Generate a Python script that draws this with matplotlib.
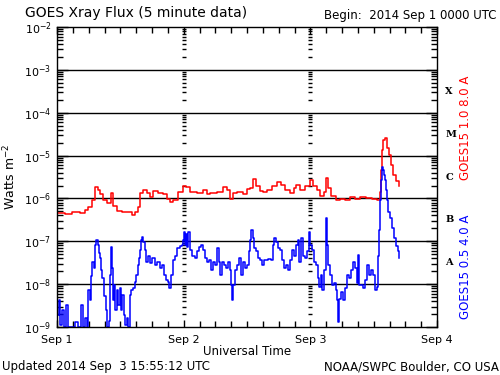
import numpy as np
import matplotlib
matplotlib.use("Agg")
import matplotlib.pyplot as plt
import matplotlib.transforms as mtransforms
from matplotlib.ticker import MultipleLocator, LogLocator, NullFormatter

# GOES15 long channel (1.0-8.0 A), hours since Sep 1 00:00 UTC
long_hours = [0, 1.5, 2.8, 4.4, 5.3, 5.9, 6.6, 7.2, 7.8, 8.1, 8.7, 9.5, 10.2, 10.6, 11.4, 12.3,
              12.7, 14.2, 14.8, 15.3, 15.7, 16.3, 17.1, 17.6, 18.2, 19.1, 20.1, 20.8, 21.4, 22.0,
              22.9, 23.9, 24.4, 25.2, 26.5, 27.7, 28.4, 29.0, 30.3, 31.5, 32.2, 32.8, 33.3, 34.1,
              35.2, 36.0, 36.6, 37.1, 37.7, 38.5, 39.0, 39.8, 40.7, 41.7, 42.4, 43.2, 44.1, 44.9,
              45.3, 46.0, 47.0, 47.9, 48.5, 49.3, 49.8, 50.6, 51.0, 51.3, 51.9, 52.9, 53.6, 54.6,
              55.5, 56.5, 57.4, 58.5, 59.7, 60.6, 61.2, 61.4, 61.6, 61.8, 62.1, 62.5, 62.9, 63.3,
              63.7, 64.2, 64.8]
long_flux = [4.6e-7, 4.4e-7, 4.8e-7, 4.6e-7, 5.4e-7, 6.3e-7, 9.1e-7, 1.85e-6, 1.6e-6, 1.26e-6,
             9.1e-7, 7.8e-7, 1.35e-6, 6.6e-7, 5.1e-7, 4.8e-7, 4.8e-7, 4.1e-7, 4.8e-7, 6.3e-7,
             1.35e-6, 1.6e-6, 1.35e-6, 1.07e-6, 1.48e-6, 1.35e-6, 1.26e-6, 9.8e-7, 8.3e-7, 9.1e-7,
             1.4e-6, 2.0e-6, 1.85e-6, 1.4e-6, 1.35e-6, 1.6e-6, 1.26e-6, 1.35e-6, 1.4e-6, 1.85e-6,
             1.6e-6, 9.8e-7, 1.35e-6, 1.4e-6, 1.26e-6, 1.66e-6, 1.74e-6, 2.8e-6, 1.9e-6, 1.48e-6,
             1.4e-6, 1.6e-6, 1.95e-6, 2.4e-6, 2.1e-6, 1.6e-6, 1.35e-6, 1.74e-6, 2.1e-6, 1.6e-6,
             2.0e-6, 2.7e-6, 2.0e-6, 1.6e-6, 1.15e-6, 1.4e-6, 3.0e-6, 1.74e-6, 1.15e-6, 9.1e-7,
             9.8e-7, 9.1e-7, 1.07e-6, 9.8e-7, 1.07e-6, 1.0e-6, 9.8e-7, 9.1e-7, 1.4e-6, 4.6e-6,
             1.35e-5, 2.3e-5, 2.6e-5, 1.5e-5, 1.02e-5, 6.0e-6, 3.5e-6, 2.6e-6, 1.95e-6]

# GOES15 short channel (0.5-4.0 A)
short_hours = [0, 0.4, 0.6, 0.9, 1.3, 1.7, 2.1, 3.0, 3.4, 4.0, 4.5, 4.9, 5.3, 5.7, 5.9, 6.3, 6.4,
               6.6, 7.0, 7.2, 7.4, 7.8, 8.0, 8.1, 8.3, 8.5, 8.9, 9.3, 9.5, 9.9, 10.0, 10.2, 10.4,
               10.6, 10.8, 11.0, 11.4, 11.6, 11.9, 12.1, 12.3, 12.7, 12.9, 13.3, 13.5, 13.8, 14.0,
               14.4, 14.8, 15.0, 15.3, 15.5, 15.7, 15.9, 16.1, 16.3, 16.7, 16.9, 17.2, 17.6, 18.0,
               18.6, 18.9, 19.5, 19.9, 20.3, 20.7, 21.0, 21.2, 21.6, 22.0, 22.4, 22.7, 23.3, 23.7,
               23.9, 24.1, 24.3, 24.4, 24.6, 24.8, 25.2, 25.6, 26.1, 26.5, 26.9, 27.3, 27.7, 28.0,
               28.4, 28.8, 29.2, 29.6, 29.9, 30.3, 30.7, 30.9, 31.3, 31.6, 32.0, 32.4, 32.8, 33.0,
               33.2, 33.3, 33.7, 34.1, 34.5, 34.9, 35.2, 35.6, 36.0, 36.4, 36.6, 36.8, 37.1, 37.3,
               37.7, 38.1, 38.5, 38.8, 39.2, 40.0, 40.5, 40.9, 41.1, 41.5, 41.9, 42.3, 42.6, 43.0,
               43.4, 43.8, 44.1, 44.5, 44.9, 45.3, 45.7, 45.8, 46.2, 46.6, 47.0, 47.4, 47.8, 47.9,
               48.3, 48.7, 49.1, 49.5, 49.6, 50.0, 50.2, 50.6, 51.0, 51.2, 51.3, 51.7, 52.1, 52.5,
               52.9, 53.0, 53.2, 53.4, 53.8, 54.2, 54.6, 55.0, 55.3, 55.7, 56.1, 56.5, 56.8, 57.0,
               57.2, 57.6, 58.0, 58.4, 58.7, 59.1, 59.5, 59.9, 60.3, 60.6, 60.8, 61.0, 61.2, 61.4,
               61.6, 61.8, 62.0, 62.1, 62.3, 62.5, 62.7, 63.1, 63.5, 63.9, 64.2, 64.6, 64.8]
short_flux = [1.9e-9, 4.3e-9, 1.1e-9, 2.5e-9, 1.0e-9, 3.2e-9, 1.0e-9, 1.0e-9, 1.3e-9, 1.0e-9,
              3.2e-9, 1.0e-9, 1.6e-9, 1.0e-9, 7.2e-9, 4.3e-9, 1.55e-8, 3.3e-8, 2.4e-8, 8.1e-8,
              1.07e-7, 8.1e-8, 5.4e-8, 4.1e-8, 2.1e-8, 1.4e-8, 5.2e-9, 2.5e-9, 1.0e-9, 1.4e-9,
              1.6e-8, 7.4e-8, 2.4e-8, 4.3e-9, 9.5e-9, 2.5e-9, 7.2e-9, 3.2e-9, 8.1e-9, 2.5e-9,
              5.6e-9, 1.9e-9, 1.1e-9, 1.6e-9, 1.0e-9, 5.6e-9, 7.2e-9, 8.1e-9, 1.1e-8, 1.6e-8,
              2.8e-8, 4.1e-8, 6.3e-8, 1.07e-7, 1.26e-7, 9.4e-8, 6.3e-8, 3.3e-8, 4.6e-8, 3.1e-8,
              4.1e-8, 2.8e-8, 3.3e-8, 2.4e-8, 2.8e-8, 1.6e-8, 1.26e-8, 1.1e-8, 8.1e-9, 1.6e-8,
              3.6e-8, 4.6e-8, 6.9e-8, 7.6e-8, 8.1e-8, 1.07e-7, 1.66e-7, 8.1e-8, 1.45e-7, 7.4e-8,
              1.66e-7, 6.3e-8, 4.6e-8, 4.1e-8, 5.8e-8, 7.4e-8, 8.1e-8, 6.3e-8, 4.1e-8, 3.3e-8,
              3.6e-8, 2.1e-8, 3.3e-8, 2.8e-8, 6.9e-8, 3.3e-8, 1.6e-8, 3.3e-8, 2.8e-8, 2.4e-8,
              3.3e-8, 2.1e-8, 9.5e-9, 4.3e-9, 9.5e-9, 2.1e-8, 2.8e-8, 4.1e-8, 1.6e-8, 3.3e-8,
              2.4e-8, 2.8e-8, 5.8e-8, 1.07e-7, 1.8e-7, 1.2e-7, 6.9e-8, 5.8e-8, 4.1e-8, 3.6e-8,
              2.8e-8, 3.6e-8, 3.8e-8, 3.6e-8, 8.1e-8, 1.2e-7, 9.4e-8, 6.9e-8, 6.3e-8, 3.6e-8,
              2.4e-8, 2.8e-8, 2.1e-8, 3.6e-8, 6.3e-8, 4.6e-8, 8.1e-8, 1.07e-7, 3.3e-8, 1.2e-7,
              4.6e-8, 4.1e-8, 5.8e-8, 1.66e-7, 8.1e-8, 6.3e-8, 3.3e-8, 2.8e-8, 1.4e-8, 8.5e-9,
              1.6e-8, 7.2e-9, 2.1e-8, 3.5e-7, 8.1e-8, 2.8e-8, 1.6e-8, 9.5e-9, 1.05e-8, 7.2e-9,
              4.3e-9, 1.3e-9, 4.6e-9, 6.6e-9, 4.3e-9, 8.1e-9, 1.6e-8, 1.4e-8, 2.1e-8, 3.3e-8,
              2.4e-8, 1.05e-8, 4.8e-8, 9.5e-9, 9.5e-9, 8.1e-9, 1.26e-8, 2.8e-8, 1.6e-8, 2.1e-8,
              1.6e-8, 7.2e-9, 8.5e-9, 4.6e-8, 1.8e-7, 9.1e-7, 2.7e-6, 5.4e-6, 4.6e-6, 3.5e-6,
              2.7e-6, 1.6e-6, 9.1e-7, 4.8e-7, 3.5e-7, 2.0e-7, 1.2e-7, 7.6e-8, 5.8e-8, 4.1e-8]

day_labels = ["Sep 1", "Sep 2", "Sep 3", "Sep 4"]
flare_classes = ["A", "B", "C", "M", "X"]
decades = [-9, -8, -7, -6, -5, -4, -3, -2]

fig = plt.figure(figsize=(5, 3.75), dpi=100)
ax = fig.add_axes([0.114, 0.128, 0.76, 0.80])

ax.plot(np.array(long_hours) / 24, long_flux, color="#ff0000", lw=1.1, drawstyle="steps-post")
ax.plot(np.array(short_hours) / 24, short_flux, color="#0000ff", lw=1.1, drawstyle="steps-post")

ax.set_yscale("log")
ax.set_ylim(1e-9, 1e-2)
ax.set_xlim(0, 3)

# horizontal decade lines
for d in decades[1:-1]:
    ax.axhline(10.0 ** d, color="black", lw=1, zorder=0)

# short dashes at day boundaries (minor log positions)
minor_vals = [m * 10.0 ** d for d in decades[:-1] for m in range(2, 10)]
for day in [1, 2]:
    ax.plot([day] * len(minor_vals), minor_vals, ls="none", marker="_", ms=3.5,
            mew=1, color="black", zorder=0)

ax.xaxis.set_minor_locator(MultipleLocator(0.125))
ax.set_xticks([0, 1, 2, 3])
ax.set_xticklabels(day_labels, fontsize=8)
ax.yaxis.set_minor_locator(LogLocator(base=10, subs=np.arange(2, 10), numticks=20))
ax.yaxis.set_minor_formatter(NullFormatter())
ax.set_yticks([10.0 ** d for d in decades])
ax.set_yticklabels([r"$10^{%d}$" % d for d in decades], fontsize=8)
ax.tick_params(which="both", direction="in", top=True, right=True, width=1, color="black")
ax.tick_params(which="major", length=8)
ax.tick_params(which="minor", length=4)
ax.tick_params(axis="x", which="major", length=5, pad=6)
ax.tick_params(axis="y", which="major", pad=4)
for s in ax.spines.values():
    s.set_linewidth(1)

ax.set_xlabel("Universal Time", fontsize=8.5, labelpad=0)
ax.set_ylabel(r"Watts m$^{-2}$", fontsize=9, labelpad=4)

# flare class letters on the right
trans = mtransforms.blended_transform_factory(ax.transAxes, ax.transData)
for i, c in enumerate(flare_classes):
    ax.text(1.022, 10.0 ** (-7.5 + i), c, transform=trans, fontsize=7, fontweight="bold",
            family="DejaVu Serif", ha="left", va="center")

ax.text(1.058, 10.0 ** -4.36, "GOES15 1.0 8.0 A", transform=trans, rotation=90,
        color="#ff0000", fontsize=8.5, ha="left", va="center")
ax.text(1.058, 10.0 ** -7.6, "GOES15 0.5 4.0 A", transform=trans, rotation=90,
        color="#0000ff", fontsize=8.5, ha="left", va="center")

fig.text(0.05, 0.965, "GOES Xray Flux (5 minute data)", fontsize=10, ha="left", va="center")
fig.text(0.993, 0.96, "Begin:  2014 Sep 1 0000 UTC", fontsize=8.5, ha="right", va="center")
fig.text(0.004, 0.022, "Updated 2014 Sep  3 15:55:12 UTC", fontsize=8.5, ha="left", va="center")
fig.text(0.998, 0.022, "NOAA/SWPC Boulder, CO USA", fontsize=8.5, ha="right", va="center")

plt.savefig("out.png", dpi=100, facecolor="white")
